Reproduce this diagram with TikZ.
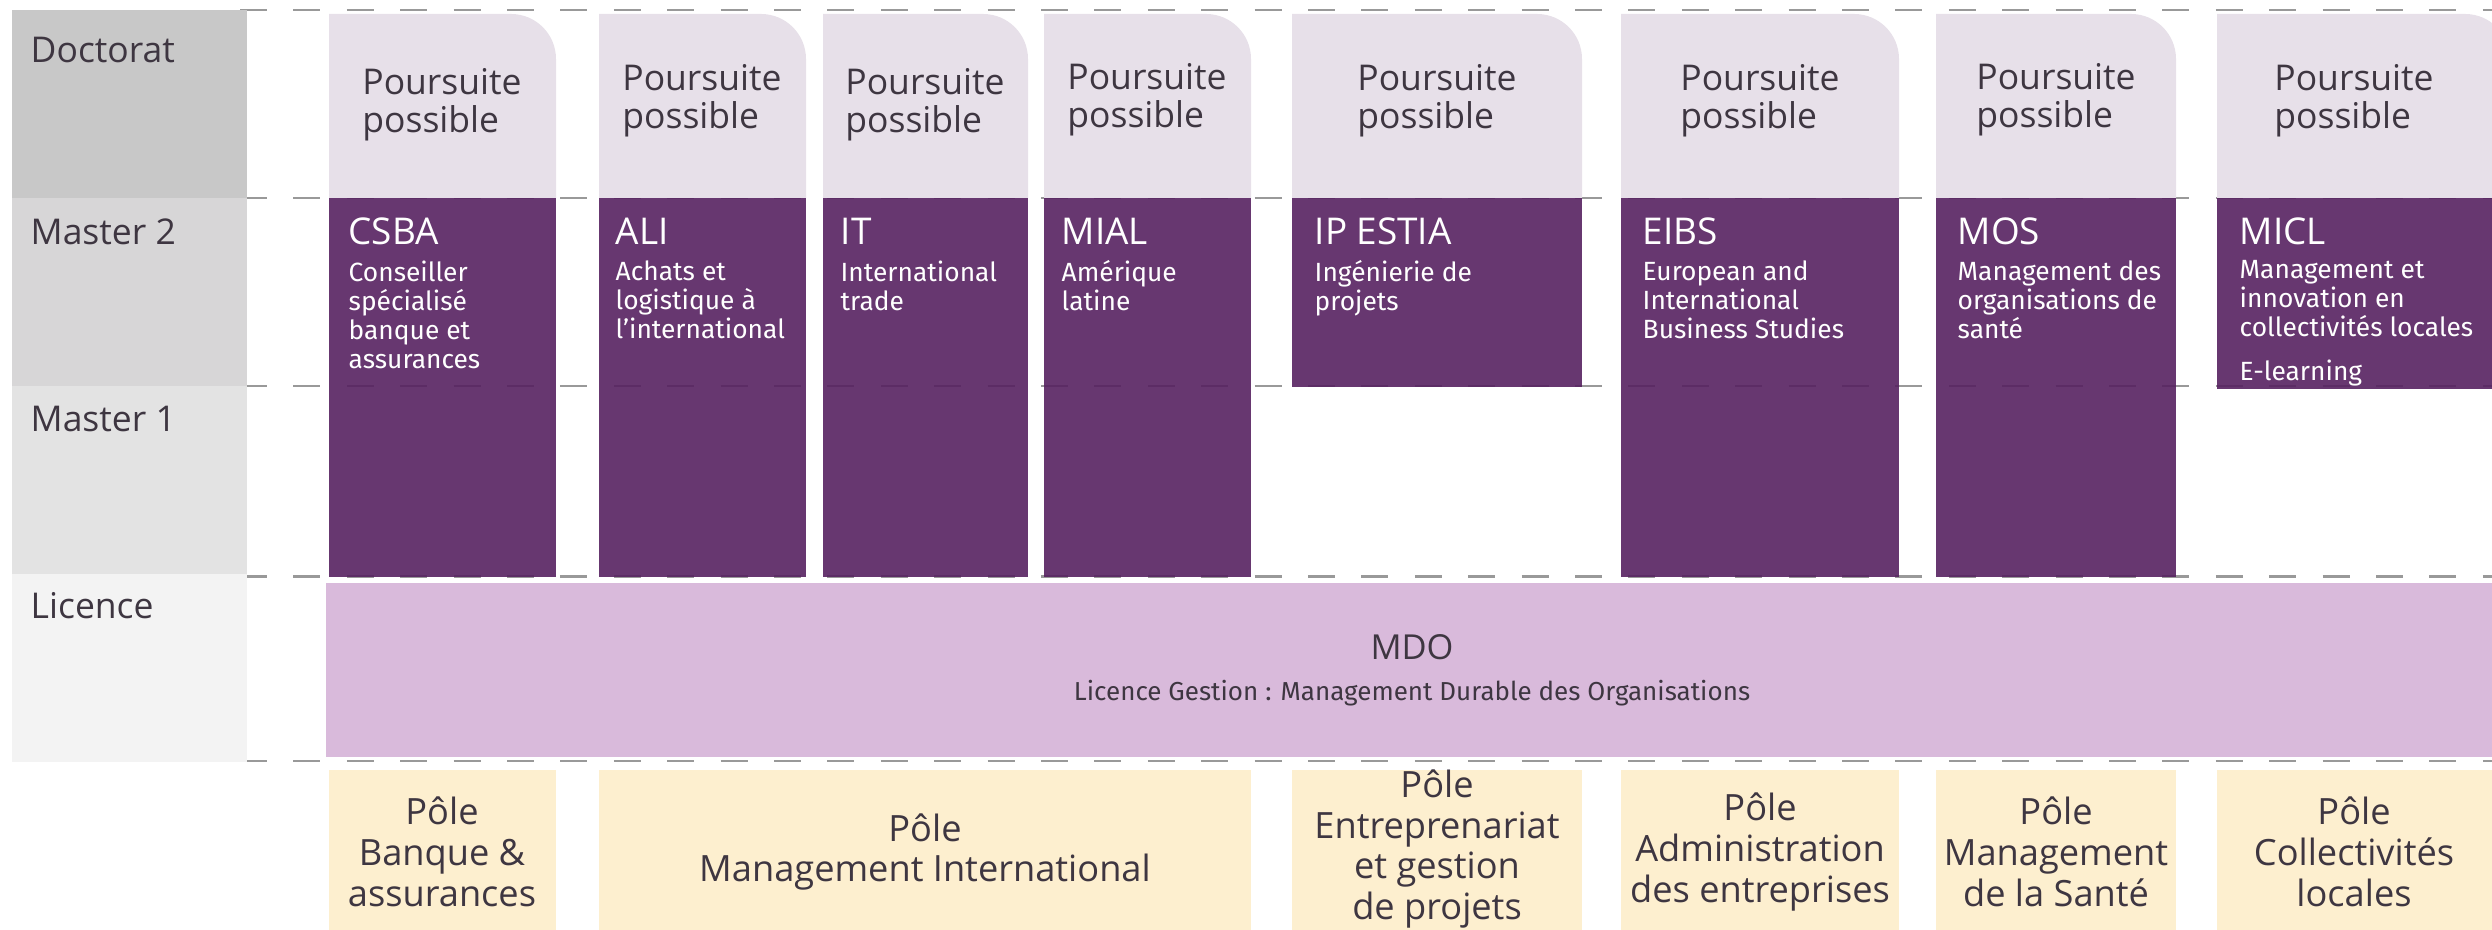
\documentclass[tikz,border=0pt]{standalone}
\usepackage{fontspec}
\setmainfont{Open Sans}
\newfontfamily\fira{Fira Sans}
\definecolor{lcA}{HTML}{C8C8C8}
\definecolor{lcB}{HTML}{D7D6D7}
\definecolor{lcC}{HTML}{E3E3E3}
\definecolor{lcD}{HTML}{F3F3F3}
\definecolor{lav}{HTML}{E7E0E9}
\definecolor{darkp}{HTML}{562160}
\definecolor{mdoc}{HTML}{D9BADB}
\definecolor{polec}{HTML}{FDEFCF}
\definecolor{txt}{HTML}{3E3641}
\definecolor{dashc}{HTML}{999999}
\newcommand\lavbox[2]{\fill[lav] (#1,732) -- (#1,916) -- ({#2-45},916) arc[start angle=90,end angle=0,radius=4.5mm] -- (#2,732) -- cycle;}
\begin{document}
\begin{tikzpicture}[x=0.1mm,y=0.1mm,
  dashline/.style={draw=dashc, line width=0.28mm, dash pattern=on 2.7mm off 2.64mm},
  darkbox/.style={fill=darkp, fill opacity=0.9},
  lbl/.style={anchor=base west, inner sep=0, text=txt, font=\fontsize{10.1}{11}\selectfont},
  pours/.style={align=left, inner sep=0, text=txt, font=\fontsize{10.1}{10.9}\selectfont},
  ttl/.style={anchor=base west, inner sep=0, text=white, font=\fontsize{10.5}{12}\selectfont},
  sub/.style={anchor=north west, align=left, inner sep=0, text=white, font=\fira\fontsize{7.5}{8.25}\selectfont, execute at begin node={\rule{0pt}{6pt}}},
  pole/.style={align=center, inner sep=0, text=txt, font=\fontsize{10.3}{11.66}\selectfont}]
\useasboundingbox (0,0) rectangle (2492,930);
\clip (0,0) rectangle (2492,930);
% dashed grid lines
\foreach \yy in {920,732,544,353.5,169} {\draw[dashline] (240,\yy) -- (2492,\yy);}
% label column
\fill[lcA] (12,920) rectangle (247,732);
\fill[lcB] (12,732) rectangle (247,544);
\fill[lcC] (12,544) rectangle (247,356);
\fill[lcD] (12,356) rectangle (247,168);
\node[lbl] (ldoc) at (30,867) {Doctorat};
\node[lbl] (lm2) at (30,685) {Master 2};
\node[lbl] (lm1) at (30,498) {Master 1};
\node[lbl] (llic) at (30,311) {Licence};
% Poursuite boxes
\lavbox{329}{556}
\lavbox{599}{806}
\lavbox{823}{1028}
\lavbox{1044}{1251}
\lavbox{1292}{1582}
\lavbox{1621}{1899}
\lavbox{1936}{2176}
\lavbox{2217}{2510}
\node[pours] (p1) at (442,825) {Poursuite\\possible};
\node[pours] (p2) at (702,829) {Poursuite\\possible};
\node[pours] (p3) at (925,825) {Poursuite\\possible};
\node[pours] (p4) at (1147,830) {Poursuite\\possible};
\node[pours] (p5) at (1437,829) {Poursuite\\possible};
\node[pours] (p6) at (1760,829) {Poursuite\\possible};
\node[pours] (p7) at (2056,830) {Poursuite\\possible};
\node[pours] (p8) at (2354,829) {Poursuite\\possible};
% Master boxes
\fill[darkbox] (329,732) rectangle (556,353);
\fill[darkbox] (599,732) rectangle (806,353);
\fill[darkbox] (823,732) rectangle (1028,353);
\fill[darkbox] (1044,732) rectangle (1251,353);
\fill[darkbox] (1292,732) rectangle (1582,543);
\fill[darkbox] (1621,732) rectangle (1899,353);
\fill[darkbox] (1936,732) rectangle (2176,353);
\fill[darkbox] (2217,732) rectangle (2500,541);
\node[ttl] (t1) at (348,685) {CSBA};
\node[sub] (s1) at (348,670) {Conseiller\\spécialisé\\banque et\\assurances};
\node[ttl] (t2) at (615,685) {ALI};
\node[sub] (s2) at (615,670) {Achats et\\logistique à\\l’international};
\node[ttl] (t3) at (840,685) {IT};
\node[sub] (s3) at (840,670) {International\\trade};
\node[ttl] (t4) at (1061,685) {MIAL};
\node[sub] (s4) at (1061,670) {Amérique\\latine};
\node[ttl] (t5) at (1314,685) {IP ESTIA};
\node[sub] (s5) at (1314,670) {Ingénierie de\\projets};
\node[ttl] (t6) at (1642,685) {EIBS};
\node[sub] (s6) at (1642,670) {European and\\International\\Business Studies};
\node[ttl] (t7) at (1957,685) {MOS};
\node[sub] (s7) at (1957,670) {Management des\\organisations de\\santé};
\node[ttl] (t8) at (2239,685) {MICL};
\node[sub] (s8) at (2239,670) {Management et\\innovation en\\collectivités locales};
\node[sub] (s8b) at (2239,571) {E-learning};
% Licence
\fill[mdoc] (326,347) rectangle (2492,173);
\node[anchor=base, inner sep=0, text=txt, font=\fontsize{9.8}{11}\selectfont] (mdo) at (1412,270) {MDO};
\node[anchor=base, inner sep=0, text=txt, font=\fira\fontsize{7.4}{8}\selectfont] (mdosub) at (1412,229) {Licence Gestion : Management Durable des Organisations};
% Poles
\fill[polec] (329,160) rectangle (556,0);
\fill[polec] (599,160) rectangle (1251,0);
\fill[polec] (1292,160) rectangle (1582,0);
\fill[polec] (1621,160) rectangle (1899,0);
\fill[polec] (1936,160) rectangle (2176,0);
\fill[polec] (2217,160) rectangle (2492,0);
\node[pole] (q1) at (442,78) {Pôle\\Banque \&\\assurances};
\node[pole] (q2) at (925,78) {Pôle\\Management International};
\node[pole] (q3) at (1437,81) {Pôle\\Entreprenariat\\et gestion\\de projets};
\node[pole] (q4) at (1760,78) {Pôle\\Administration\\des entreprises};
\node[pole] (q5) at (2056,78) {Pôle\\Management\\de la Santé};
\node[pole] (q6) at (2354,78) {Pôle\\Collectivités\\locales};
\end{tikzpicture}
\end{document}
